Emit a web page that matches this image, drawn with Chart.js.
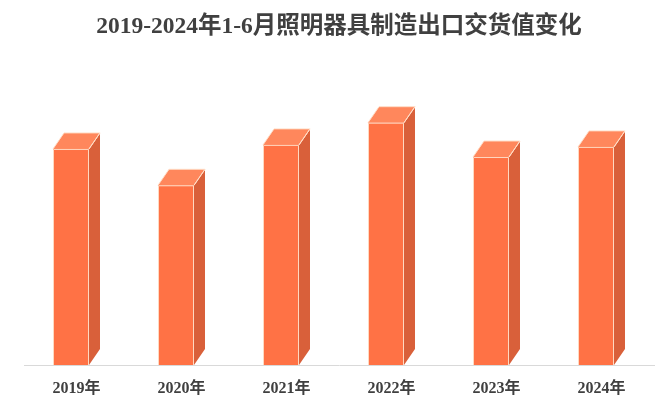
<!DOCTYPE html>
<html>
<head>
<meta charset="utf-8">
<script src="https://cdn.jsdelivr.net/npm/chart.js@4"></script>
<style>
html,body{margin:0;padding:0;background:#fff;}
#wrap{width:660px;height:407px;}
</style>
</head>
<body>
<div id="wrap"><canvas id="c" width="660" height="407"></canvas></div>
<script>
const categories = ['2019年','2020年','2021年','2022年','2023年','2024年'];
const exportValues = [1070, 890, 1090, 1200, 1030, 1080];
const titleText = '2019-2024年1-6月照明器具制造出口交货值变化';

const DEPTH_X = 11, DEPTH_Y = 16;
const colFront = '#FF7245', colTop = '#FF875C', colSide = '#D9603A', colEdge = 'rgba(255,222,200,0.95)';

const bar3d = {
  id: 'bar3d',
  afterDatasetsDraw(chart) {
    const ctx = chart.ctx;
    const meta = chart.getDatasetMeta(0);
    meta.data.forEach(el => {
      const w = el.width;
      const l = el.x - w / 2;
      const r = el.x + w / 2 - DEPTH_X;
      const t = el.y;
      const b = el.base;
      ctx.save();
      ctx.lineWidth = 1;
      ctx.strokeStyle = colEdge;
      ctx.lineJoin = 'round';
      ctx.beginPath();
      ctx.moveTo(r, t); ctx.lineTo(r + DEPTH_X, t - DEPTH_Y);
      ctx.lineTo(r + DEPTH_X, b - DEPTH_Y); ctx.lineTo(r, b); ctx.closePath();
      ctx.fillStyle = colSide; ctx.fill();
      ctx.beginPath();
      ctx.moveTo(l, t); ctx.lineTo(l + DEPTH_X, t - DEPTH_Y);
      ctx.lineTo(r + DEPTH_X, t - DEPTH_Y); ctx.lineTo(r, t); ctx.closePath();
      ctx.fillStyle = colTop; ctx.fill();
      ctx.fillStyle = colFront;
      ctx.fillRect(l, t, r - l, b - t);
      ctx.beginPath();
      ctx.moveTo(l, t); ctx.lineTo(l + DEPTH_X, t - DEPTH_Y);
      ctx.lineTo(r + DEPTH_X, t - DEPTH_Y); ctx.lineTo(r, t);
      ctx.moveTo(l + 0.5, b); ctx.lineTo(l + 0.5, t + 0.5); ctx.lineTo(r - 0.5, t + 0.5); ctx.lineTo(r - 0.5, b);
      ctx.moveTo(r, t); ctx.lineTo(r + DEPTH_X, t - DEPTH_Y);
      ctx.stroke();
      ctx.restore();
    });
  }
};

new Chart(document.getElementById('c'), {
  type: 'bar',
  data: {
    labels: categories,
    datasets: [{
      label: '出口交货值',
      data: exportValues,
      backgroundColor: 'rgba(0,0,0,0)',
      borderWidth: 0,
      barThickness: 47
    }]
  },
  options: {
    responsive: false,
    animation: false,
    devicePixelRatio: 1,
    layout: { padding: { left: 24, right: 6, top: 0, bottom: 0 } },
    plugins: {
      legend: { display: false },
      tooltip: { enabled: false },
      title: {
        display: true,
        text: titleText,
        color: '#404040',
        font: { family: '"Liberation Serif","Noto Sans CJK SC",serif', size: 23.5, weight: 'bold' },
        padding: { top: 13, bottom: 30 }
      }
    },
    scales: {
      x: {
        grid: { display: false, drawTicks: false },
        border: { display: true, color: '#D9D9D9', width: 1 },
        afterFit: (s) => { s.height = 42; },
        ticks: {
          color: '#404040',
          padding: 14,
          font: { family: '"Liberation Serif","Noto Sans CJK SC",serif', size: 16, weight: 'bold' }
        }
      },
      y: {
        display: false,
        min: 0,
        max: 1455
      }
    }
  },
  plugins: [bar3d]
});
</script>
</body>
</html>
